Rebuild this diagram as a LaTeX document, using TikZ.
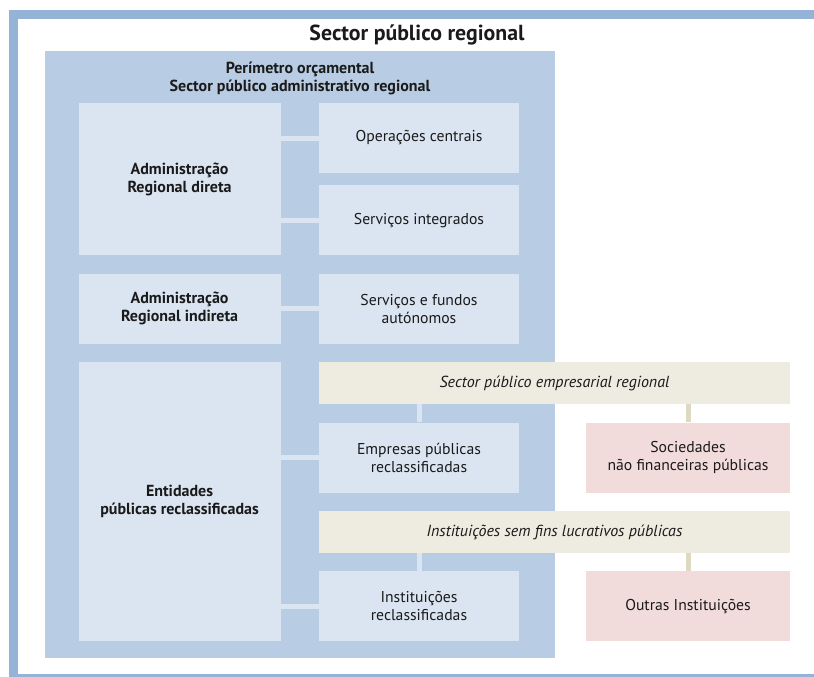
\documentclass[tikz,border=0pt]{standalone}
\usepackage{fontspec}
\setmainfont{PT Sans}
\usetikzlibrary{positioning}

\definecolor{framebl}{HTML}{95B3D7}
\definecolor{panelbl}{HTML}{B8CCE4}
\definecolor{cellbl}{HTML}{DBE5F1}
\definecolor{tanbar}{HTML}{EEECE1}
\definecolor{tanln}{HTML}{DDD9C3}
\definecolor{rosebx}{HTML}{F2DCDB}
\definecolor{ink}{HTML}{1A1A1A}

\begin{document}
\begin{tikzpicture}[x=1pt,y=-1pt,
		cell/.style={rectangle,
				inner sep=0pt,
				fill=cellbl,
				text=ink,
				minimum width=200pt,
				minimum height=70pt,
				align=center,
				font=\fontsize{15.7}{18}\selectfont},
		head/.style={cell, minimum width=202pt, font=\bfseries\fontsize{16}{18}\selectfont},
		bar/.style={cell, fill=tanbar, minimum width=471pt, minimum height=42pt, font=\itshape\fontsize{16}{18}\selectfont},
		rose/.style={cell, fill=rosebx, minimum width=204pt},
		link/.style={draw=cellbl, line width=5pt},
		tie/.style={draw=tanln, line width=5pt}]
	\useasboundingbox (0,0) rectangle (814,677);
	% frame and panel
	\fill[framebl] (9,10) rectangle (814,19);
	\fill[framebl] (9,10) rectangle (18,677);
	\fill[framebl] (9,674) rectangle (814,677);
	\node[font=\bfseries\fontsize{21.8}{24}\selectfont, text=ink] (title) at (417,35) {Sector público regional};
	\fill[panelbl] (45,51) rectangle (555,658);
	\node[align=center, text=ink, font=\bfseries\fontsize{16}{18}\selectfont] (spa) at (300,78) {Perímetro orçamental\\Sector público administrativo regional};
	% right column
	\node[cell] (oc) at (419,138) {Operações centrais};
	\node[cell,below=12pt of oc] (si) {Serviços integrados};
	\node[cell,below=18pt of si] (sfa) {Serviços e fundos\\autónomos};
	\node[bar,below=18pt of sfa.south west,anchor=north west] (spe) {Sector público empresarial regional};
	\node[cell,below=18pt of spe.south west,anchor=north west] (emp) {Empresas públicas\\reclassificadas};
	\node[rose,below=18pt of spe.south east,anchor=north east] (snf) {Sociedades\\não financeiras públicas};
	\node[bar,below=18pt of emp.south west,anchor=north west] (isf) {Instituições sem fins lucrativos públicas};
	\node[cell,below=18pt of isf.south west,anchor=north west] (inr) {Instituições\\reclassificadas};
	\node[rose,below=18pt of isf.south east,anchor=north east] (oi) {Outras Instituições};
	% left column
	\node[head,left=38pt of sfa] (ari) {Administração\\Regional indireta};
	\node[head,minimum height=152pt,anchor=north east] (ard) at (ari.east |- oc.north) {Administração\\Regional direta};
	\node[head,minimum height=279pt,anchor=north east] (epr) at (ari.east |- spe.north) {Entidades\\públicas reclassificadas};
	% links
	\draw[link] (ard.east |- oc) -- (oc.west);
	\draw[link] (ard.east |- si) -- (si.west);
	\draw[link] (ari.east) -- (sfa.west);
	\draw[link] (epr.east |- emp) -- (emp.west);
	\draw[link] (epr.east |- inr) -- (inr.west);
	\draw[link] (spe.south -| emp) -- (emp.north);
	\draw[link] (isf.south -| inr) -- (inr.north);
	\draw[tie] (spe.south -| snf) -- (snf.north);
	\draw[tie] (isf.south -| oi) -- (oi.north);
\end{tikzpicture}
\end{document}
